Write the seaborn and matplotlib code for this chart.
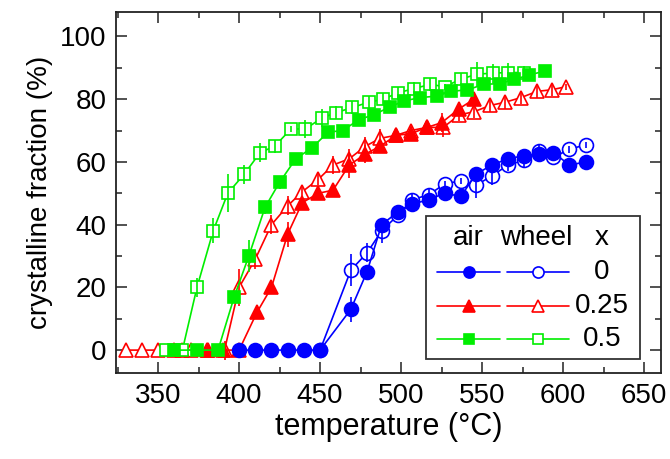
import matplotlib
matplotlib.use("Agg")
import matplotlib.pyplot as plt
from matplotlib.lines import Line2D
from matplotlib.patches import Rectangle
from matplotlib.ticker import MultipleLocator
import seaborn as sns
import pandas as pd

# data (temperature in degC, crystalline fraction in %)
air0_T = [400, 410, 420, 430, 440, 450, 469, 479, 488, 498, 507, 517, 527, 537, 546, 556, 566, 576, 585, 594, 604, 614]
air0_y = [0, 0, 0, 0, 0, 0, 13, 25, 40, 44, 46.5, 48, 50, 49, 56, 59, 61, 62, 62.5, 63, 59, 60]
air0_e = [0, 0, 0, 0, 0, 0, 4, 1, 2, 1, 1, 1, 1, 1, 1, 1, 1, 1, 1, 1, 1, 1]

wheel0_T = [450, 469, 479, 488, 498, 507, 517, 527, 537, 546, 556, 566, 576, 585, 594, 604, 614]
wheel0_y = [0, 25.5, 31, 38, 43, 48, 49.5, 53, 54, 52.5, 55.5, 59, 60.5, 63.5, 61.5, 64, 65.5]
wheel0_e = [0, 5, 3, 4, 1, 2, 2, 1, 1, 4, 3, 2, 2, 2, 1, 1, 1]

air25_T = [365, 380, 390, 400, 411, 420, 430, 439, 449, 458, 468, 478, 487, 497, 506, 516, 525, 536, 545]
air25_y = [0, 0, 0, 0, 12, 20, 37, 47, 50, 51, 59, 62.5, 65, 68.5, 69, 71, 72.5, 77, 80]
air25_e = [0, 0, 0, 0, 1, 2, 4, 1, 1, 1, 4, 3, 2, 1, 2, 1, 3, 2, 1]

wheel25_T = [330, 340, 350, 360, 370, 381, 391, 400, 410, 420, 430, 439, 449, 458, 468, 478, 487, 497,
             506, 516, 526, 536, 545, 555, 564, 574, 584, 593, 602]
wheel25_y = [0, 0, 0, 0, 0, 0, 0, 20, 29, 40, 46, 50.5, 54.5, 59, 61, 65, 67.5, 68.5,
             70, 71, 71, 75, 76, 78, 79, 80.5, 82.5, 83, 84]
wheel25_e = [0, 0, 0, 0, 0, 0, 3, 6, 3, 3, 3, 2, 2, 3, 3, 3, 3, 2,
             2, 2, 3, 2, 2, 2, 2, 2, 2, 2, 1]

air5_T = [360, 374, 387, 397, 406, 416, 425, 435, 445, 455, 464, 474, 483, 493, 502, 512, 522, 531, 541, 551, 561, 570, 579, 589]
air5_y = [0, 0, 0, 17, 30, 45.5, 53.5, 61, 64.5, 69.5, 70, 73.5, 75, 77.5, 79.5, 80.5, 81, 82.5, 83, 84.7, 85, 86.3, 87.7, 89]
air5_e = [0, 0, 0, 2, 5, 2, 2, 1, 1, 1, 1, 1, 1, 1, 1, 1, 1, 1, 1, 1, 1, 1, 1, 1]

wheel5_T = [355, 365, 374, 384, 393, 403, 413, 422, 432, 441, 451, 460, 470, 480, 489, 498, 508, 518, 527, 537, 547, 557, 566, 576]
wheel5_y = [0, 0, 20, 38, 50, 56, 63, 65, 70.5, 70.5, 74, 75.7, 77.4, 79, 80, 82, 83.4, 84.7, 84, 86.4, 88, 88.3, 88.5, 88.5]
wheel5_e = [0, 0, 3, 4, 6, 3, 3, 2, 1, 3, 3, 2, 2, 2, 2, 2, 2, 2, 1, 2, 4, 3, 3, 2]

x_labels = ["0", "0.25", "0.5"]
colors = ["#0000ff", "#ff0000", "#00ee00"]
markers = ["o", "^", "s"]
msizes = [10, 10.5, 8.5]

series = [
    # (T, y, err, color index, filled)
    (wheel25_T, wheel25_y, wheel25_e, 1, False),
    (air25_T, air25_y, air25_e, 1, True),
    (wheel5_T, wheel5_y, wheel5_e, 2, False),
    (air5_T, air5_y, air5_e, 2, True),
    (wheel0_T, wheel0_y, wheel0_e, 0, False),
    (air0_T, air0_y, air0_e, 0, True),
]

sns.set_style("ticks")
plt.rcParams["font.family"] = ["Liberation Sans", "DejaVu Sans"]
plt.rcParams["text.color"] = "black"
plt.rcParams["axes.labelcolor"] = "black"
plt.rcParams["xtick.color"] = "black"
plt.rcParams["ytick.color"] = "black"

fig = plt.figure(figsize=(6.7, 4.59), dpi=100)
ax = fig.add_axes([116 / 670, 1 - 373 / 459, (661 - 116) / 670, (373 - 12) / 459])

z = 2
for T, y, e, ci, filled in series:
    df = pd.DataFrame({"T": T, "y": y})
    sns.lineplot(data=df, x="T", y="y", ax=ax, color=colors[ci], lw=1.2,
                 marker=markers[ci], markersize=msizes[ci],
                 markerfacecolor=colors[ci] if filled else "white",
                 markeredgecolor=colors[ci], markeredgewidth=1.2, zorder=z)
    ax.errorbar(T, y, yerr=e, fmt="none", ecolor=colors[ci], elinewidth=1.2, capsize=0, zorder=z + 0.5)
    z += 1

ax.set_xlim(324, 660.5)
ax.set_ylim(-7.3, 107.8)
ax.xaxis.set_major_locator(MultipleLocator(50))
ax.xaxis.set_minor_locator(MultipleLocator(25))
ax.yaxis.set_major_locator(MultipleLocator(20))
ax.yaxis.set_minor_locator(MultipleLocator(10))
ax.tick_params(which="both", direction="in", top=True, right=True, width=1.2, color="#333333")
ax.tick_params(which="major", length=8, labelsize=20, pad=7)
ax.tick_params(which="minor", length=4)
for s in ax.spines.values():
    s.set_linewidth(1.3)
    s.set_color("#222222")

ax.set_xlabel("temperature (°C)", fontsize=22, labelpad=2)
ax.set_ylabel("crystalline fraction (%)", fontsize=20, labelpad=5)


# legend box drawn by hand, positions given in figure pixels
def px(xp, yp):
    return (xp - 116) / (661 - 116), (373 - yp) / (373 - 12)


x0, y0 = px(425.7, 359)
x1, y1 = px(640, 216)
ax.add_patch(Rectangle((x0, y0), x1 - x0, y1 - y0, transform=ax.transAxes, fill=True,
                       facecolor="white", edgecolor="#333333", lw=1.3, zorder=20))
for label, xp in [("air", 468), ("wheel", 536), ("x", 602)]:
    ax.text(*px(xp, 238), label, transform=ax.transAxes, ha="center", va="center", fontsize=20, zorder=21)
for i, (lab, yp) in enumerate(zip(x_labels, [271.7, 306, 339.3])):
    for (xa, xb, xm), filled in [((437, 500, 469), True), ((507, 569, 538), False)]:
        a, yy = px(xa, yp)
        b, _ = px(xb, yp)
        m, _ = px(xm, yp)
        ax.add_line(Line2D([a, b], [yy, yy], transform=ax.transAxes, color=colors[i], lw=1.2, zorder=21))
        ax.add_line(Line2D([m], [yy], transform=ax.transAxes, color=colors[i], marker=markers[i],
                           markersize=msizes[i] * 0.8, markerfacecolor=colors[i] if filled else "white",
                           markeredgecolor=colors[i], markeredgewidth=1.2, zorder=22))
    ax.text(*px(602, yp), lab, transform=ax.transAxes, ha="center", va="center", fontsize=20, zorder=21)

fig.savefig("out.png", dpi=100)
